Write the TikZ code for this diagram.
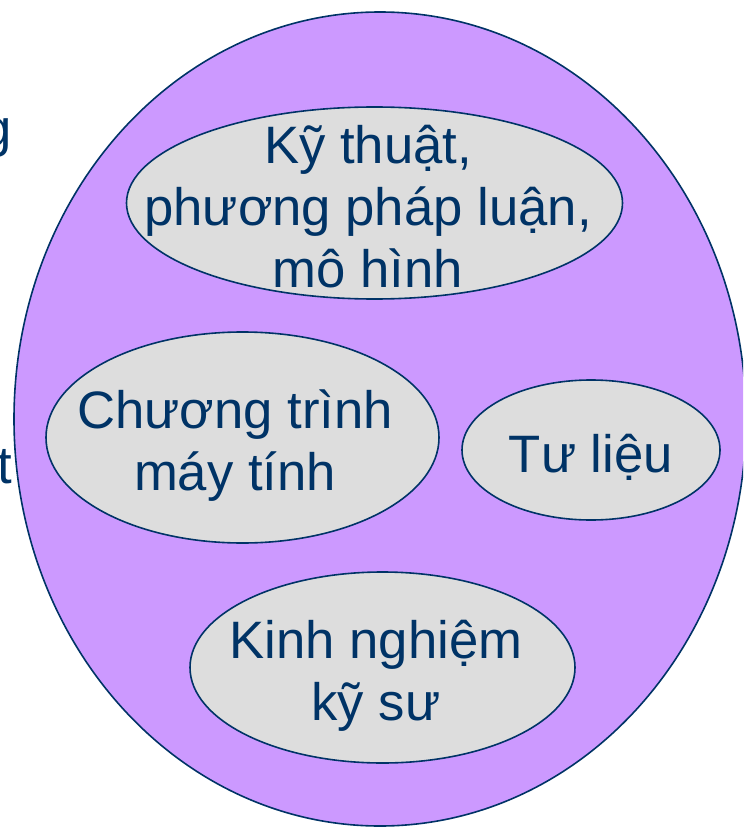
\documentclass[tikz,border=0pt]{standalone}
\usepackage{fontspec}
\setmainfont{Liberation Sans}
\usetikzlibrary{shapes.geometric}
\definecolor{navy}{HTML}{003366}
\definecolor{lilac}{HTML}{CC99FF}
\definecolor{pale}{HTML}{DDDDDD}
\tikzset{
  outer/.style={ellipse, draw=navy, line width=1.2pt, fill=lilac, inner sep=0pt},
  blob/.style={ellipse, draw=navy, line width=1.2pt, fill=pale, inner sep=0pt},
  lbl/.style={text=navy, font=\fontsize{39.5pt}{46.5pt}\selectfont, align=center, inner sep=0pt}
}
\begin{document}
\begin{tikzpicture}[x=0.75pt, y=-0.75pt]
\useasboundingbox (0,0) rectangle (743,827);
\clip (0,0) rectangle (743,827);
\node[outer, minimum width=549pt, minimum height=610.5pt] (big) at (380,419) {};
\node[blob, minimum width=372pt, minimum height=144pt] (e1) at (374.5,203) {};
\node[blob, minimum width=294.75pt, minimum height=158.25pt] (e2) at (242.5,437.5) {};
\node[blob, minimum width=193.5pt, minimum height=105pt] (e3) at (591,450) {};
\node[blob, minimum width=288.75pt, minimum height=143.25pt] (e4) at (382.5,667.5) {};
\node[lbl, anchor=base] (t1) at (368,287) {Kỹ thuật,\\phương pháp luận,\\mô hình};
\node[lbl, anchor=base] (t2) at (235,490) {Chương trình\\máy tính};
\node[lbl, anchor=base] (t3) at (591,472) {Tư liệu};
\node[lbl, anchor=base] (t4) at (376,720) {Kinh nghiệm\\kỹ sư};
\node[lbl, anchor=base east] (g) at (12,147) {g};
\node[lbl, anchor=base east] (t) at (12,483) {t};
\end{tikzpicture}
\end{document}
